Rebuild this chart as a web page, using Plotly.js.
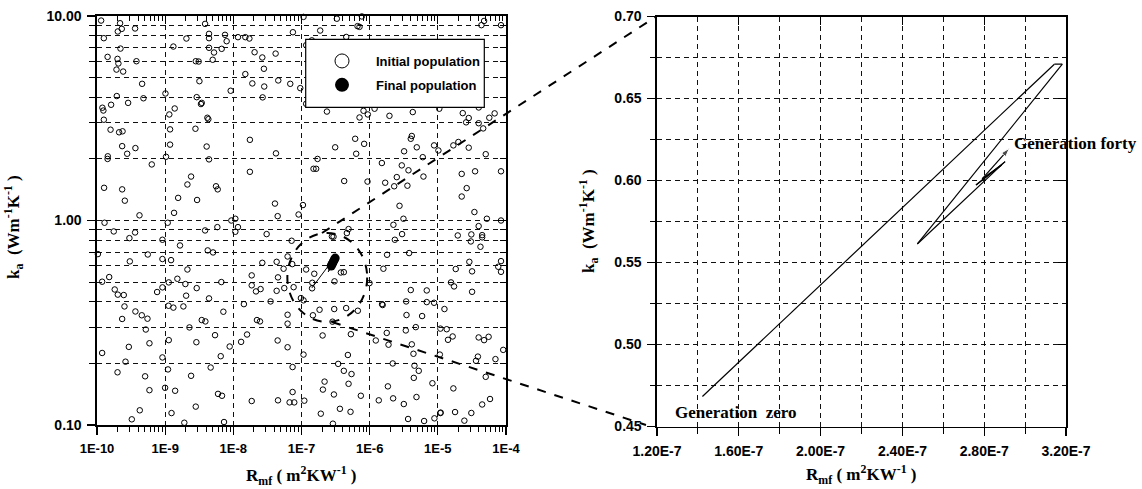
<!DOCTYPE html>
<html><head><meta charset="utf-8">
<script src="https://cdn.plot.ly/plotly-3.0.1.min.js"></script>
<style>html,body{margin:0;padding:0;background:#fff;} #chart{width:1142px;height:489px;}</style>
</head><body><div id="chart"></div>
<script>
// ---------- DATA ----------
// Initial population (random GA individuals), Rmf [m2K/W] and ka [W/mK]
const initX = [
1.15e-10,2.18e-10,2.31e-10,2.02e-10,3.62e-10,1.26e-10,2.21e-10,1.43e-10,2.0e-10,2.06e-10,
3.79e-10,1.93e-10,2.42e-10,4.59e-10,1.95e-10,4.80e-10,1.61e-10,2.86e-10,1.20e-10,1.24e-10,
1.26e-10,1.58e-10,2.11e-10,2.37e-10,2.34e-10,3.66e-10,2.77e-10,1.44e-10,1.43e-10,6.36e-10,
1.27e-10,2.34e-10,2.56e-10,4.2e-10,
1.01e-9,1.32e-9,2.05e-9,3.85e-9,4.40e-9,4.40e-9,7.55e-9,7.98e-9,6.75e-9,4.40e-9,
5.21e-9,4.98e-9,2.81e-9,3.10e-9,3.18e-9,2.90e-9,3.44e-9,3.35e-9,1.15e-9,1.38e-9,
4.16e-9,4.3e-9,1.18e-9,2.78e-9,1.18e-9,4.06e-9,1.03e-9,4.40e-9,2.40e-9,2.12e-9,
5.57e-9,5.90e-9,1.55e-9,2.94e-9,1.35e-9,
9.14e-9,1.17e-8,1.50e-8,1.72e-8,2.05e-8,2.66e-8,4.17e-8,2.81e-8,1.50e-8,1.90e-8,
2.84e-8,4.56e-8,2.69e-8,1.75e-8,4.22e-8,1.75e-8,4.08e-8,4.47e-8,1.07e-8,9.35e-9,
1.07e-7,3.30e-7,7.68e-7,6.63e-7,7.1e-7,1.88e-7,7.48e-8,1.42e-7,1.17e-7,4.53e-7,
6.84e-8,9.59e-8,1.17e-7,2.36e-7,7.1e-7,8.12e-7,9.40e-7,1.18e-6,1.95e-6,4.29e-6,
1.05e-5,2.32e-5,2.84e-5,2.6e-5,6.13e-7,8.3e-7,3.12e-7,6.34e-7,1.72e-7,1.50e-7,
1.64e-7,4.23e-7,9.3e-7,1.51e-6,1.69e-6,2.29e-6,2.50e-6,2.96e-6,3.71e-6,3.58e-6,
3.20e-6,4.15e-6,4.01e-6,4.91e-6,6.01e-6,6.15e-6,8.81e-6,1.02e-5,1.69e-5,2.0e-5,
2.84e-5,2.24e-5,2.65e-5,2.24e-5,2.74e-6,3.13e-6,1.05e-7,9.06e-8,
1.29e-10,1.09e-9,1.17e-8,1.07e-8,5.83e-9,3.85e-9,1.76e-10,3.62e-10,2.99e-10,9.12e-10,
1.65e-9,3.08e-8,4.21e-9,5.04e-9,1.03e-10,5.56e-10,3.03e-10,9.12e-10,1.22e-9,2.12e-9,
2.66e-8,4.32e-8,1.51e-10,1.19e-10,1.82e-10,2.02e-10,2.47e-10,2.53e-10,2.34e-10,3.66e-10,
4.54e-10,5.5e-10,5.2e-10,5.88e-10,2.93e-10,1.19e-10,2.62e-10,2.0e-10,5.08e-10,5.88e-10,
4.24e-10,3.24e-10,7.62e-10,9.12e-10,1.13e-9,1.51e-9,1.98e-9,2.03e-9,2.90e-9,4.40e-9,
1.12e-9,1.32e-9,1.85e-9,6.67e-9,7.14e-9,3.44e-9,3.89e-9,2.27e-9,5.39e-9,2.87e-9,
1.13e-9,8.84e-9,6.53e-9,9.12e-10,1.10e-9,4.65e-9,2.40e-9,9.97e-10,1.40e-9,5.96e-9,
6.82e-9,2.81e-9,1.24e-9,1.91e-9,7.3e-9,1.86e-8,1.86e-8,2.15e-8,2.51e-8,3.52e-8,
1.43e-8,2.22e-8,2.46e-8,1.59e-8,1.30e-8,4.47e-8,4.52e-8,4.32e-8,1.86e-8,4.52e-8,
2.23e-6,2.99e-6,2.34e-6,1.96e-5,7.16e-8,2.79e-7,2.95e-7,4.9e-7,4.63e-7,3.79e-6,
1.80e-6,6.25e-8,5.46e-8,7.32e-8,1.17e-7,1.54e-7,3.78e-7,4.18e-7,3.05e-7,1.44e-7,
1.43e-7,5.59e-8,7.66e-8,9.8e-8,1.07e-7,1.84e-7,3.02e-7,4.52e-7,6.71e-7,1.47e-7,
2.85e-7,6.25e-8,6.25e-8,6.25e-8,2.04e-7,5.30e-7,1.07e-7,7.4e-8,4.79e-7,3.45e-7,
4.18e-7,5.42e-7,4.9e-7,2.18e-7,2.06e-7,2.99e-7,7.42e-7,7.4e-8,6.69e-8,7.83e-8,
1.10e-7,1.92e-7,3.66e-7,5.24e-7,2.89e-7,9.94e-7,1.59e-6,4.01e-6,6.88e-6,1.52e-6,
1.55e-6,3.43e-6,6.88e-6,8.81e-6,3.47e-6,5.88e-6,1.25e-5,1.73e-5,1.56e-5,1.83e-5,
4.75e-6,3.39e-6,1.09e-5,1.35e-5,1.65e-5,1.41e-5,1.78e-6,1.23e-6,1.89e-6,4.15e-6,
4.39e-6,1.07e-5,2.18e-6,4.54e-6,5.25e-6,4.44e-6,8.33e-6,1.85e-6,2.21e-6,1.36e-6,
3.17e-6,4.86e-6,1.69e-5,3.66e-6,6.29e-6,8.91e-6,1.09e-5,1.10e-5,1.79e-5,2.45e-5,
4.77e-5,4.36e-5,8.45e-5,3.97e-5,4.63e-5,5.69e-5,6.81e-5,3.98e-5,5.04e-5,3.52e-5,
8.45e-5,3.44e-5,5.24e-5,8.45e-5,3.97e-5,3.1e-5,3.05e-5,4.47e-5,4.47e-5,4.22e-5,
7.69e-5,8.45e-5,8.45e-5,2.9e-5,3.18e-5,3.18e-5,3.97e-5,4.77e-5,5.56e-5,9.1e-5,
3.87e-5,3.63e-5,7.0e-5,5.04e-5,4.47e-5,5.83e-5,3.1e-5
];
const initY = [
9.5,9.22,8.65,8.40,8.69,7.79,6.93,6.31,6.17,5.86,
6.01,5.47,5.35,4.66,4.06,3.96,3.68,3.76,3.56,3.45,
3.11,2.78,2.70,2.73,2.31,2.26,2.12,2.06,2.0,1.88,
1.445,1.42,1.25,1.06,
4.18,7.09,7.76,9.15,8.18,7.79,8.09,7.53,6.91,6.99,
6.63,6.11,6.01,5.99,4.80,4.01,3.76,3.71,3.30,3.53,
3.18,3.13,2.79,2.81,2.35,2.30,2.05,1.99,1.64,1.50,
1.47,1.42,1.29,1.26,1.09,
4.31,7.88,7.88,7.76,6.65,6.27,6.55,5.52,5.20,4.68,
4.52,4.84,4.0,2.48,2.13,1.73,1.21,1.05,1.02,1.0,
9.9,9.7,9.95,8.92,8.85,8.49,8.33,7.6,7.2,7.9,
4.66,4.44,3.72,3.41,3.19,3.44,3.30,3.52,3.25,3.39,
3.52,3.35,3.17,3.02,2.51,2.37,2.28,2.12,2.0,1.79,
1.79,1.56,1.55,1.91,1.53,1.47,1.63,1.86,1.76,1.48,
2.18,2.59,2.51,2.28,2.04,1.64,2.33,2.20,2.33,2.42,
2.27,1.69,1.44,1.31,1.18,1.02,1.19,1.07,
0.975,0.975,0.928,0.881,0.928,0.894,0.884,0.874,0.820,0.805,
0.755,0.858,0.714,0.698,0.685,0.682,0.631,0.648,0.640,0.576,
0.621,0.628,0.529,0.502,0.460,0.434,0.432,0.380,0.330,0.359,
0.344,0.331,0.293,0.251,0.241,0.225,0.204,0.181,0.173,0.148,
0.118,0.1066,0.447,0.471,0.498,0.519,0.489,0.429,0.467,0.416,
0.383,0.375,0.380,0.500,0.358,0.326,0.321,0.300,0.275,0.254,
0.260,0.242,0.217,0.214,0.187,0.191,0.174,0.152,0.147,0.142,
0.139,0.123,0.1144,0.1026,0.1034,0.539,0.482,0.450,0.462,0.402,
0.390,0.326,0.321,0.277,0.255,0.259,0.527,0.453,0.131,0.132,
0.953,0.858,0.805,0.845,0.796,0.836,0.833,0.908,0.868,0.693,
0.680,0.667,0.581,0.612,0.576,0.549,0.557,0.559,0.504,0.496,
0.466,0.467,0.472,0.4175,0.407,0.366,0.369,0.373,0.362,0.344,
0.320,0.346,0.313,0.240,0.274,0.278,0.221,0.192,0.220,0.199,
0.184,0.1775,0.159,0.163,0.149,0.141,0.139,0.145,0.129,0.129,
0.1315,0.1136,0.120,0.116,0.1015,0.494,0.581,0.457,0.455,0.390,
0.386,0.402,0.399,0.396,0.345,0.341,0.369,0.476,0.498,0.579,
0.301,0.290,0.296,0.294,0.271,0.261,0.282,0.259,0.247,0.248,
0.223,0.221,0.200,0.195,0.184,0.170,0.160,0.1545,0.135,0.132,
0.1266,0.137,0.151,0.107,0.1046,0.1078,0.1144,0.1150,0.1157,0.105,
9.46,9.02,9.02,2.99,2.82,3.18,3.34,3.57,2.11,1.74,
1.74,1.10,1.02,1.0,0.939,0.855,0.79,0.848,0.827,0.744,
0.594,0.561,0.633,0.628,0.564,0.448,0.268,0.260,0.270,0.233,
0.216,0.206,0.210,0.172,0.126,0.134,0.1145
];
// Final population (converged cluster)
const finalX = [2.73e-7, 2.80e-7, 2.88e-7, 2.96e-7, 3.04e-7, 3.12e-7];
const finalY = [0.599, 0.610, 0.621, 0.633, 0.644, 0.655];
// Best-individual path from generation zero to generation forty
const genX = [1.422e-7, 3.143e-7, 3.182e-7, 2.473e-7, 2.902e-7, 2.760e-7, 2.893e-7, 2.770e-7, 2.885e-7, 2.790e-7, 2.923e-7];
const genY = [0.4683, 0.6709, 0.6709, 0.5613, 0.6115, 0.5973, 0.6105, 0.5985, 0.6095, 0.6010, 0.6196];
// Tick labels
const leftXTicks = [1e-10, 1e-9, 1e-8, 1e-7, 1e-6, 1e-5, 1e-4];
const leftXLabels = ['1E-10', '1E-9', '1E-8', '1E-7', '1E-6', '1E-5', '1E-4'];
const leftYTicks = [0.1, 1, 10];
const leftYLabels = ['0.10', '1.00', '10.00'];
const rightXTicks = [1.2e-7, 1.6e-7, 2.0e-7, 2.4e-7, 2.8e-7, 3.2e-7];
const rightXLabels = ['1.20E-7', '1.60E-7', '2.00E-7', '2.40E-7', '2.80E-7', '3.20E-7'];
const rightYTicks = [0.45, 0.50, 0.55, 0.60, 0.65, 0.70];
const rightYLabels = ['0.45', '0.50', '0.55', '0.60', '0.65', '0.70'];
const rightXMinor = [1.4e-7, 1.8e-7, 2.2e-7, 2.6e-7, 3.0e-7];
const rightYMinor = [0.475, 0.525, 0.575, 0.625, 0.675];

// ---------- axis helpers ----------
const leftXMinor = [], leftYMinor = [];
for (let e = -10; e < -4; e++) for (let d = 2; d <= 9; d++) leftXMinor.push(d * Math.pow(10, e));
for (let e = -1; e < 1; e++) for (let d = 2; d <= 9; d++) leftYMinor.push(d * Math.pow(10, e));

const W = 1142, H = 489;
const sans = 'Liberation Sans, Arial, sans-serif';
const serif = 'Liberation Serif, Times New Roman, serif';
const tf = s => ({family: sans, size: s, color: '#000', weight: 'bold'});
const titleFont = {family: serif, size: 17, color: '#000', weight: 'bold'};
const gridDash = '5px,4px';
const gridCol = '#111';

const dLX = [97 / W, 506 / W], dLY = [1 - 425 / H, 1 - 16 / H];
const dRX = [657 / W, 1066 / W], dRY = [1 - 426.5 / H, 1 - 16.5 / H];

const traces = [
  {x: initX, y: initY, xaxis: 'x', yaxis: 'y', type: 'scatter', mode: 'markers', showlegend: false, cliponaxis: false,
   marker: {symbol: 'circle-open', size: 5.5, color: '#000', line: {width: 1, color: '#000'}}, hoverinfo: 'x+y'},
  {x: genX, y: genY, xaxis: 'x', yaxis: 'y', type: 'scatter', mode: 'lines', showlegend: false,
   line: {color: '#000', width: 1}},
  {x: finalX, y: finalY, xaxis: 'x', yaxis: 'y', type: 'scatter', mode: 'markers', showlegend: false,
   marker: {symbol: 'circle', size: 9, color: '#000'}},
  {x: [null], y: [null], xaxis: 'x', yaxis: 'y', type: 'scatter', mode: 'markers', name: 'Initial population',
   legendgroup: 'init', marker: {symbol: 'circle-open', size: 14, color: '#000', line: {width: 1, color: '#000'}}},
  {x: [null], y: [null], xaxis: 'x', yaxis: 'y', type: 'scatter', mode: 'markers', name: 'Final population',
   legendgroup: 'final', marker: {symbol: 'circle', size: 14, color: '#000'}},
  {x: genX, y: genY, xaxis: 'x2', yaxis: 'y2', type: 'scatter', mode: 'lines+markers', showlegend: false,
   line: {color: '#000', width: 1.2},
   marker: {symbol: 'arrow', angleref: 'previous', color: '#000', size: genX.map((v, i) => i === genX.length - 1 ? 9 : 0)}},
  {x: [], y: [], xaxis: 'x3', yaxis: 'y3', type: 'scatter', mode: 'markers', showlegend: false, hoverinfo: 'skip'},
  {x: [], y: [], xaxis: 'x4', yaxis: 'y4', type: 'scatter', mode: 'markers', showlegend: false, hoverinfo: 'skip'}
];

const baseAxis = {
  showline: true, linecolor: '#000', linewidth: 1.6, mirror: true, zeroline: false,
  ticks: 'outside', ticklen: 8, tickwidth: 1.3, tickcolor: '#000', tickmode: 'array',
  ticklabelstandoff: 3, automargin: false,
  showgrid: true, gridcolor: gridCol, gridwidth: 1, griddash: gridDash, fixedrange: true
};

const layout = {
  width: W, height: H, autosize: false,
  margin: {l: 0, r: 0, t: 0, b: 0, pad: 0},
  paper_bgcolor: '#fff', plot_bgcolor: '#fff',
  showlegend: true,
  legend: {x: 308 / W, y: 1 - 46 / H, xanchor: 'left', yanchor: 'top',
    bgcolor: 'rgba(0,0,0,0)', borderwidth: 0, itemwidth: 58,
    font: {family: sans, size: 13, color: '#000', weight: 'bold'},
    tracegroupgap: 4},
  xaxis: Object.assign({}, baseAxis, {domain: dLX, anchor: 'y', type: 'log', range: [-10, -4],
    tickvals: leftXTicks, ticktext: leftXLabels, tickfont: tf(13),
    minor: {tickvals: leftXMinor, ticks: 'outside', ticklen: 5, tickwidth: 1, tickcolor: '#000', showgrid: false}}),
  yaxis: Object.assign({}, baseAxis, {domain: dLY, anchor: 'x', type: 'log', range: [-1, 1],
    tickvals: leftYTicks, ticktext: leftYLabels, tickfont: tf(14),
    minor: {tickvals: leftYMinor, ticks: 'outside', ticklen: 6, tickwidth: 1, tickcolor: '#000',
      showgrid: true, gridcolor: gridCol, gridwidth: 1, griddash: gridDash}}),
  xaxis3: {overlaying: 'x', anchor: 'y', side: 'top', type: 'log', range: [-10, -4], showline: false, showgrid: false,
    zeroline: false, ticks: 'inside', ticklen: 8, tickwidth: 1.3, tickcolor: '#000', tickmode: 'array',
    tickvals: leftXTicks, showticklabels: false, fixedrange: true,
    minor: {tickvals: leftXMinor, ticks: 'inside', ticklen: 5, tickwidth: 1, tickcolor: '#000', showgrid: false}},
  yaxis3: {overlaying: 'y', anchor: 'x', side: 'right', type: 'log', range: [-1, 1], showline: false, showgrid: false,
    zeroline: false, ticks: 'inside', ticklen: 8, tickwidth: 1.3, tickcolor: '#000', tickmode: 'array',
    tickvals: leftYTicks, showticklabels: false, fixedrange: true,
    minor: {tickvals: leftYMinor, ticks: 'inside', ticklen: 6, tickwidth: 1, tickcolor: '#000', showgrid: false}},
  xaxis2: Object.assign({}, baseAxis, {domain: dRX, anchor: 'y2', type: 'linear', range: [1.2e-7, 3.2e-7],
    tickvals: rightXTicks, ticktext: rightXLabels, tickfont: tf(14),
    minor: {tickvals: rightXMinor, ticks: 'outside', ticklen: 6, tickwidth: 1, tickcolor: '#000',
      showgrid: true, gridcolor: gridCol, gridwidth: 1, griddash: gridDash}}),
  yaxis2: Object.assign({}, baseAxis, {domain: dRY, anchor: 'x2', type: 'linear', range: [0.45, 0.70],
    tickvals: rightYTicks, ticktext: rightYLabels, tickfont: tf(14),
    minor: {tickvals: rightYMinor, ticks: 'outside', ticklen: 5, tickwidth: 1, tickcolor: '#000',
      showgrid: true, gridcolor: gridCol, gridwidth: 1, griddash: gridDash}}),
  xaxis4: {overlaying: 'x2', anchor: 'y2', side: 'top', type: 'linear', range: [1.2e-7, 3.2e-7], showline: false,
    showgrid: false, zeroline: false, ticks: 'inside', ticklen: 8, tickwidth: 1.3, tickcolor: '#000',
    tickmode: 'array', tickvals: rightXTicks, showticklabels: false, fixedrange: true},
  yaxis4: {overlaying: 'y2', anchor: 'x2', side: 'right', type: 'linear', range: [0.45, 0.70], showline: false,
    showgrid: false, zeroline: false, ticks: 'inside', ticklen: 8, tickwidth: 1.3, tickcolor: '#000',
    tickmode: 'array', tickvals: rightYTicks, showticklabels: false, fixedrange: true},
  shapes: [
    // legend frame
    {type: 'rect', xref: 'paper', yref: 'paper', x0: 305.7 / W, x1: 484.3 / W, y0: 1 - 107.3 / H, y1: 1 - 39.3 / H,
     fillcolor: '#fff', line: {color: '#000', width: 1.2}, layer: 'above'},
    {type: 'circle', xref: 'x', yref: 'y', x0: 6.2e-8, x1: 9.2e-7, y0: 0.319, y1: 0.869,
     line: {color: '#000', width: 2, dash: 'dash'}},
    {type: 'line', xref: 'paper', yref: 'paper', x0: 322 / W, y0: 1 - 233 / H, x1: 657 / W, y1: 1 - 16 / H,
     line: {color: '#000', width: 2, dash: 'dash'}},
    {type: 'line', xref: 'paper', yref: 'paper', x0: 332 / W, y0: 1 - 322 / H, x1: 646 / W, y1: 1 - 425 / H,
     line: {color: '#000', width: 2, dash: 'dash'}}
  ],
  annotations: [
    {xref: 'paper', yref: 'paper', x: 301.5 / W, y: 1 - 475 / H, xanchor: 'center', yanchor: 'middle', showarrow: false,
     text: 'R<sub>mf</sub> ( m<sup>2</sup>KW<sup>-1</sup> )', font: titleFont},
    {xref: 'paper', yref: 'paper', x: 13 / W, y: 1 - 227 / H, xanchor: 'center', yanchor: 'middle', showarrow: false,
     textangle: -90, text: 'k<sub>a</sub>&nbsp; (Wm<sup>-1</sup>K<sup>-1</sup> )', font: titleFont},
    {xref: 'paper', yref: 'paper', x: 861.5 / W, y: 1 - 474 / H, xanchor: 'center', yanchor: 'middle', showarrow: false,
     text: 'R<sub>mf</sub> ( m<sup>2</sup>KW<sup>-1</sup> )', font: titleFont},
    {xref: 'paper', yref: 'paper', x: 588 / W, y: 1 - 221 / H, xanchor: 'center', yanchor: 'middle', showarrow: false,
     textangle: -90, text: 'k<sub>a</sub>&nbsp; (Wm<sup>-1</sup>K<sup>-1</sup> )', font: titleFont},
    {xref: 'x2', yref: 'y2', x: 1.28e-7, y: 0.4588, xanchor: 'left', yanchor: 'middle', showarrow: false,
     text: 'Generation&nbsp; zero', font: {family: serif, size: 17, color: '#000', weight: 'bold'}},
    {xref: 'x2', yref: 'y2', x: 2.935e-7, y: 0.6223, xanchor: 'left', yanchor: 'middle', showarrow: false,
     text: 'Generation forty', font: {family: serif, size: 17, color: '#000', weight: 'bold'}}
  ]
};

Plotly.newPlot('chart', traces, layout, {displayModeBar: false, staticPlot: true});
</script>
</body></html>
